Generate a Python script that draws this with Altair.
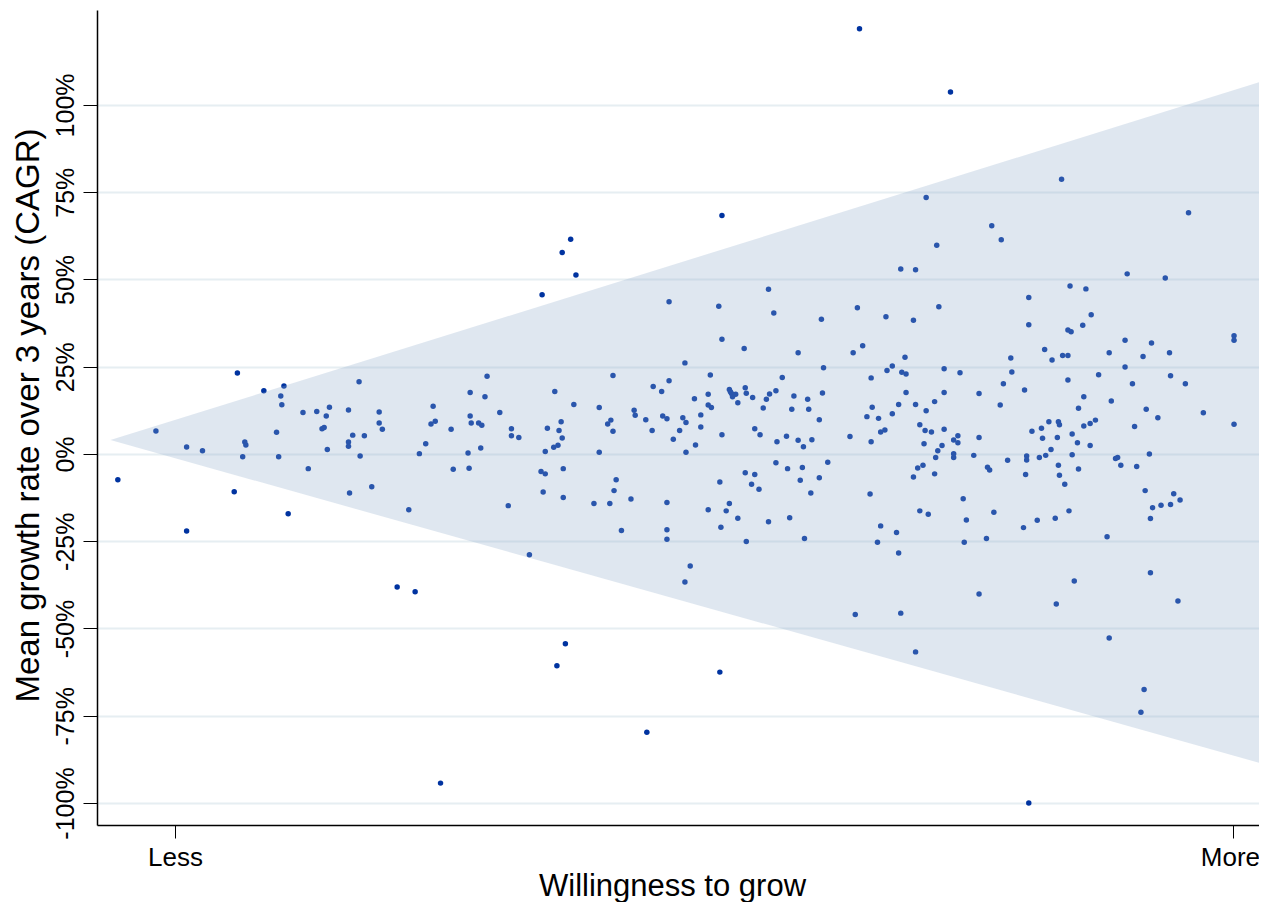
import altair as alt
import pandas as pd

# Willingness to grow (0 = "Less", 100 = "More") and 3-year mean CAGR (%)
willingness = [
    -5.4, -1.8, 1.1, 1.1, 2.6,
    5.9, 5.6, 8.4, 10.3, 10.0, 10.1, 9.6, 6.6, 6.7, 6.4, 9.8, 12.1, 13.4, 14.6, 14.3, 13.9, 14.1, 14.4, 12.6, 10.7, 17.4, 16.4, 19.3, 19.3, 19.6, 16.8, 17.9, 16.4, 16.4, 17.5, 16.5, 18.6,
    21.0, 22.7, 25.1, 36.1, 36.9, 44.6, 48.2, 48.7,
    29.5, 27.9, 29.3, 24.4, 30.7, 24.2, 24.6, 26.1, 27.9, 28.0, 28.7, 29.0, 23.7, 23.1, 28.9, 27.7, 26.3, 27.8, 22.1, 31.5, 31.8, 31.8, 32.5, 33.5, 35.9, 37.7, 35.2, 36.3, 36.5, 36.6, 35.8, 36.2, 35.0, 34.6, 35.0, 36.7, 34.8, 36.7, 41.4, 40.1, 40.9, 41.2, 41.4, 40.1, 39.6, 41.1, 41.7, 41.5, 43.1, 42.2, 43.4, 43.5, 44.5, 45.2, 46.0, 46.7, 48.2, 49.1, 45.1, 46.1, 46.5, 48.0, 48.3, 47.7, 47.1, 48.3, 49.2, 46.5, 46.5, 46.5,
    37.4, 36.6, 37.9, 34.7, 46.7,
    51.7, 71.0, 77.2, 72.0, 68.6, 70.0, 56.1, 51.4, 56.6, 64.5, 61.1, 67.2, 69.8, 72.2, 51.7, 53.8, 58.9, 64.1, 65.0, 69.0,
    64.7, 73.3,
    50.6, 50.4, 50.4, 50.7, 49.7, 49.7, 51.7, 52.4, 52.5, 52.6, 52.7, 53.0, 53.9, 54.0, 53.2, 54.6, 55.6, 55.9, 56.2, 56.8, 57.4, 54.8, 55.3, 56.9, 57.8, 58.5, 58.3, 59.8, 59.9, 58.9, 59.4, 60.2, 60.9, 61.2, 61.3, 56.8, 57.9, 59.3, 59.1, 60.9, 61.7, 60.1, 53.9, 54.8, 54.5, 55.2, 51.5, 50.4, 52.1, 52.4, 51.6, 53.2, 56.1, 58.1, 54.0, 59.5, 63.8, 65.8, 65.9, 65.4, 66.5, 66.7, 67.1, 65.8, 67.3, 67.8, 68.7, 69.1, 69.1, 68.4, 67.8, 70.0, 71.0, 71.8, 72.7, 72.7, 74.2, 76.0, 70.4, 70.9, 71.5, 72.7, 70.8, 72.1, 72.5, 71.9, 73.6, 74.0, 74.0, 73.6, 73.6, 76.0, 75.5, 70.2, 70.7, 69.8, 71.8, 76.8, 77.0, 65.7, 70.4, 71.2, 74.5, 74.8, 77.4, 66.7, 68.2, 66.4, 68.4, 74.6, 76.7,
    51.5, 64.3, 68.6, 70.0, 76.0, 83.3, 85.0, 80.7, 88.3, 92.2, 94.8, 91.6, 91.3,
    83.8, 95.8, 78.1, 90.0, 93.6, 84.6, 86.1, 80.7, 86.6, 80.7, 85.8, 84.4, 84.7, 89.8, 92.3, 100.1, 100.1, 82.2, 83.9, 84.4, 82.9, 79.0, 88.3, 91.5, 94.0,
    79.1, 78.3, 80.3, 78.0, 84.4, 87.3, 89.8, 90.5, 94.1, 95.5, 85.9, 85.4, 88.5, 91.8, 92.9, 97.2, 100.1, 90.7, 82.6, 83.5, 83.6, 81.0, 81.9, 82.0, 83.4, 84.8, 85.9, 86.5, 87.0, 85.3, 86.5, 82.8, 82.3, 81.7, 80.5, 80.5, 78.7, 84.8, 83.5, 83.6, 85.4, 84.1, 80.4, 88.9, 89.1, 89.4, 90.9, 92.1, 91.7, 94.4, 95.0, 92.4, 93.2, 94.1, 92.2, 84.5, 83.2, 81.5, 80.2, 88.1,
]
growth = [
    -7.4, 6.6, 2.0, -22.1, 0.9,
    23.2, -10.8, 18.1, 19.5, 16.6, 14.1, 6.2, 3.4, 2.6, -0.8, -0.8, 11.9, 12.2, 13.4, 10.9, 7.2, 7.6, 1.3, -4.2, -17.1, 20.7, 12.6, 12.0, 8.9, 7.1, 5.4, 5.2, 3.4, 2.2, -0.6, -11.2, -9.4,
    -38.1, -39.5, -94.3, -60.7, -54.4, -79.7, -36.7, -32.1,
    22.3, 17.6, 16.4, 13.7, 11.9, 8.6, 9.4, 7.1, 10.9, 8.9, 8.9, 8.2, 2.9, 0.1, 1.7, 0.3, -4.4, -4.1, -16.0, -14.8, 7.2, 5.2, 4.7, -28.9, 17.9, 14.2, 7.4, 6.7, 9.2, 4.6, 1.9, 2.5, 0.7, -5.0, -5.7, -4.2, -10.9, -12.5, 22.5, 13.3, 8.6, 9.7, 6.5, 0.5, -14.2, -14.2, -7.4, -10.5, -12.9, -21.9, 12.5, 11.1, 9.8, 19.3, 17.9, 21.0, 26.1, 15.8, 6.7, 10.9, 10.1, 10.4, 9.0, 6.7, 4.2, 0.5, 2.6, -13.9, -21.7, -24.4,
    61.5, 57.7, 51.3, 45.6, 43.6,
    68.3, 73.5, 65.4, 59.8, 53.0, 52.8, 47.2, 42.3, 40.4, 41.9, 38.6, 39.3, 38.3, 42.2, 32.9, 30.2, 29.0, 29.0, 31.0, 27.7,
    121.8, 103.7,
    22.6, 17.1, 14.0, 13.3, 11.2, 7.7, 5.5, 18.5, 17.8, 17.3, 16.4, 17.1, 19.0, 17.4, 14.7, 16.2, 13.2, 15.7, 17.2, 18.1, 21.9, 7.2, 5.5, 3.5, 5.1, 16.6, 12.8, 15.7, 12.8, 3.9, 2.1, 4.1, 9.8, 17.5, 24.7, -2.5, -4.2, -3.9, -7.5, -6.8, -2.4, -11.2, -5.4, -5.9, -8.7, -10.1, -8.0, -16.0, -16.3, -14.2, -21.0, -18.4, -19.4, -18.3, -25.1, -24.2, 5.0, 21.8, 13.4, 10.7, 10.2, 6.3, 6.9, 3.5, 23.9, 25.2, 23.4, 22.9, 17.6, 14.2, 11.5, 14.2, 12.4, 15.0, 24.4, 17.6, 23.3, 17.3, 8.4, 6.7, 6.3, 7.1, 2.9, 0.9, 2.4, -1.0, 4.0, 3.2, 5.2, 0.1, -1.0, 4.7, -0.4, -4.0, -3.2, -6.6, -5.7, -3.8, -4.6, -11.5, -16.3, -17.3, -12.8, -18.9, -16.7, -20.6, -22.5, -25.3, -28.4, -25.3, -24.2,
    -62.5, -46.0, -45.6, -56.7, -40.1, -43.0, -36.4, -100.0, -52.7, -34.0, -42.1, -67.5, -74.0,
    78.7, 69.1, 61.4, 51.6, 50.4, 48.1, 47.3, 44.8, 39.9, 37.0, 36.9, 35.5, 35.0, 32.6, 31.8, 33.9, 32.6, 29.9, 28.2, 28.2, 26.9, 27.5, 29.0, 27.9, 29.0,
    23.5, 20.1, 18.3, 14.0, 21.2, 22.7, 24.9, 20.1, 22.4, 20.1, 16.4, 13.1, 15.2, 12.8, 10.4, 11.8, 8.5, 7.9, 9.2, 9.2, 8.4, 6.5, 7.4, 4.5, 4.7, 5.7, 8.0, 8.7, 9.7, 3.2, 2.4, 1.3, -0.4, -1.0, -0.6, -1.7, -1.8, -0.2, -3.2, -6.1, -4.3, -8.7, -5.9, -1.3, -1.0, -3.2, -3.6, 0.0, -10.5, -11.4, -13.2, -15.4, -14.7, -14.5, -18.5, -16.3, -18.4, -19.0, -21.1, -23.7,
]

# Shaded cone (funnel) around the data
cone_x = [-6.1, 103.2]
cone_top = [4.0, 107.2]
cone_bottom = [4.0, -89.1]

y_ticks = [-100, -75, -50, -25, 0, 25, 50, 75, 100]
x_ticks = [0, 100]
x_tick_labels = ["Less", "More"]
x_title = "Willingness to grow"
y_title = "Mean growth rate over 3 years (CAGR)"

X_DOMAIN = [-7.37, 102.46]
Y_DOMAIN = [-106.3, 127.2]
FONT = "Liberation Sans"

pts = pd.DataFrame({"w": willingness, "g": growth})
cone = pd.DataFrame({"w": cone_x, "top": cone_top, "bottom": cone_bottom})

x_label_expr = f"datum.value == {x_ticks[0]} ? '{x_tick_labels[0]}' : '{x_tick_labels[1]}'"

x_scale = alt.Scale(domain=X_DOMAIN, nice=False, zero=False)
y_scale = alt.Scale(domain=Y_DOMAIN, nice=False, zero=False)

x_axis = alt.Axis(values=x_ticks, labelExpr=x_label_expr, grid=False,
                  tickSize=13, tickColor="black", tickWidth=1,
                  domainColor="black", domainWidth=1.5,
                  labelPadding=6, labelFontSize=26, labelFont=FONT,
                  labelColor="black", labelFlush=False, labelOverlap=False,
                  labelBound=False,
                  labelOffset={"condition": {"test": f"datum.value == {x_ticks[1]}", "value": -3},
                               "value": 0},
                  title=x_title, titleFont=FONT, titleFontSize=31,
                  titleFontWeight="normal", titleColor="black",
                  titleX=575, titleY=70, titleBaseline="alphabetic",
                  titleAlign="center")
y_axis = alt.Axis(values=y_ticks, labelExpr="datum.value + '%'",
                  grid=True, gridColor="#e6eef2", gridWidth=2,
                  tickSize=14, tickColor="black", tickWidth=1,
                  domainColor="black", domainWidth=1.5,
                  labelAngle=270, labelAlign="center", labelBaseline="alphabetic",
                  labelPadding=10, labelFontSize=25, labelFont=FONT,
                  labelColor="black", labelOverlap=False,
                  title=y_title, titleFont=FONT,
                  titleFontSize=33, titleFontWeight="normal", titleColor="black",
                  titleAngle=270, titleX=-59, titleY=405,
                  titleBaseline="alphabetic", titleAlign="center")

points = alt.Chart(pts).mark_circle(size=30, color="#0033a0", opacity=1).encode(
    x=alt.X("w:Q", scale=x_scale, axis=x_axis, title=x_title),
    y=alt.Y("g:Q", scale=y_scale, axis=y_axis, title=y_title),
)

band = alt.Chart(cone).mark_area(color="rgb(146,173,204)", opacity=0.29, clip=True).encode(
    x=alt.X("w:Q", scale=x_scale, axis=x_axis, title=x_title),
    y=alt.Y("top:Q", scale=y_scale, axis=y_axis, title=y_title),
    y2="bottom:Q",
)

chart = alt.layer(points, band).properties(
    width=1162, height=815,
    padding={"left": 89, "top": 2, "right": 0, "bottom": 77},
    autosize=alt.AutoSizeParams(type="none"),
    background="white",
).configure_view(stroke=None)

chart.save("out.html", embed_options={"renderer": "svg", "actions": False})
